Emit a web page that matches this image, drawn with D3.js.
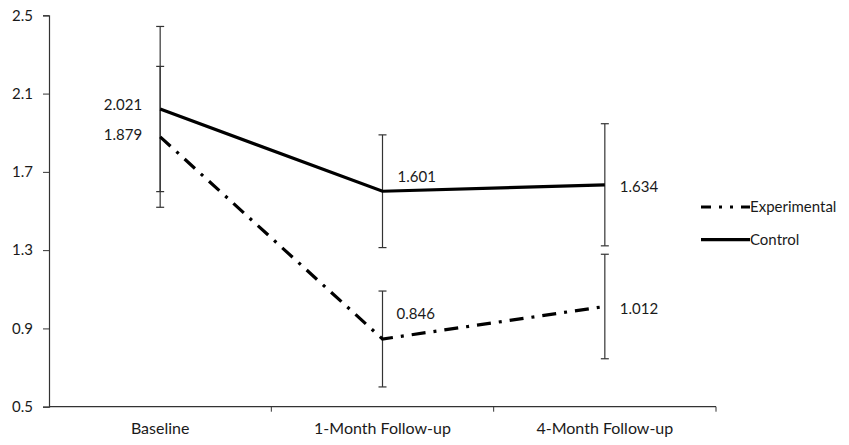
<!DOCTYPE html>
<html>
<head>
<meta charset="utf-8">
<script src="https://cdn.jsdelivr.net/npm/d3@7"></script>
<style>
  body { margin: 0; background: #fff; }
  text { font-family: Lato, "Open Sans", sans-serif; font-size: 15px; fill: #1a1a1a; }
</style>
</head>
<body>
<div id="chart"></div>
<script>
// Data
const categories = ['Baseline', '1-Month Follow-up', '4-Month Follow-up'];
const experimental = [1.879, 0.846, 1.012];
const control = [2.021, 1.601, 1.634];
// half-width of the error bars
const experimentalErr = [0.360, 0.245, 0.267];
const controlErr = [0.422, 0.288, 0.312];
const yTicks = [0.5, 0.9, 1.3, 1.7, 2.1, 2.5];
const seriesNames = ['Experimental', 'Control'];

const width = 849;
const height = 445;
const margin = {top: 15.3, left: 49, right: 133, bottom: 38.3};

const svg = d3.select('#chart').append('svg')
    .attr('width', width)
    .attr('height', height);

const x = d3.scaleBand()
    .domain(categories)
    .range([margin.left, width - margin.right]);

const y = d3.scaleLinear()
    .domain([0.5, 2.5])
    .range([height - margin.bottom, margin.top]);

const axisColor = '#333';

// y axis
const yAxis = svg.append('g')
    .attr('transform', `translate(${margin.left},0)`)
    .call(d3.axisLeft(y).tickValues(yTicks).tickFormat(d3.format('.1f')).tickSize(6).tickPadding(10));
yAxis.select('.domain').attr('stroke', axisColor).attr('stroke-width', 1.2);
yAxis.selectAll('.tick line').attr('stroke', axisColor);
yAxis.selectAll('.tick text').style('font-size', '15px').attr('fill', '#1a1a1a');

// x axis: ticks sit on the band edges
const xAxisG = svg.append('g')
    .attr('transform', `translate(0,${y(0.5)})`);
xAxisG.append('line')
    .attr('x1', margin.left).attr('x2', width - margin.right)
    .attr('stroke', axisColor).attr('stroke-width', 1.2);
const edges = categories.map(c => x(c)).concat([x(categories[2]) + x.bandwidth()]);
xAxisG.selectAll('line.edge')
    .data(edges.slice(1))
    .enter()
    .append('line')
    .attr('class', 'edge')
    .attr('x1', d => d).attr('x2', d => d)
    .attr('y1', 0).attr('y2', 5)
    .attr('stroke', axisColor);
xAxisG.selectAll('text')
    .data(categories)
    .enter()
    .append('text')
    .attr('x', d => x(d) + x.bandwidth() / 2)
    .attr('y', 22)
    .attr('dy', '0.35em')
    .attr('text-anchor', 'middle')
    .style('font-size', '16px')
    .text(d => d);

const cx = d => x(d) + x.bandwidth() / 2;

// error bars
function errorBars(values, errs, cls) {
    const g = svg.append('g').attr('class', cls);
    const rows = categories.map((c, i) => ({c, v: values[i], e: errs[i]}));
    const bars = g.selectAll('g').data(rows).enter().append('g');
    bars.append('line')
        .attr('x1', d => cx(d.c)).attr('x2', d => cx(d.c))
        .attr('y1', d => y(d.v + d.e)).attr('y2', d => y(d.v - d.e));
    bars.append('line')
        .attr('x1', d => cx(d.c) - 4).attr('x2', d => cx(d.c) + 4)
        .attr('y1', d => y(d.v + d.e)).attr('y2', d => y(d.v + d.e));
    bars.append('line')
        .attr('x1', d => cx(d.c) - 4).attr('x2', d => cx(d.c) + 4)
        .attr('y1', d => y(d.v - d.e)).attr('y2', d => y(d.v - d.e));
    g.selectAll('line').attr('stroke', '#333').attr('stroke-width', 1.2);
}
errorBars(control, controlErr, 'err-control');
errorBars(experimental, experimentalErr, 'err-exp');

const line = d3.line()
    .x((d, i) => cx(categories[i]))
    .y(d => y(d));

const dashPattern = '14,8,3,8';

svg.append('path')
    .datum(experimental)
    .attr('d', line)
    .attr('fill', 'none')
    .attr('stroke', '#000')
    .attr('stroke-width', 3.2)
    .attr('stroke-dasharray', dashPattern);

svg.append('path')
    .datum(control)
    .attr('d', line)
    .attr('fill', 'none')
    .attr('stroke', '#000')
    .attr('stroke-width', 3.2);

// value labels (offsets roughly as in the original)
const labelOffsets = {
    control: [[-18, -4, 'end'], [15, -14, 'start'], [15, 2, 'start']],
    experimental: [[-18, -2, 'end'], [14, -25, 'start'], [15, 2, 'start']]
};
function valueLabels(values, offs) {
    svg.append('g').selectAll('text')
        .data(values)
        .enter()
        .append('text')
        .attr('x', (d, i) => cx(categories[i]) + offs[i][0])
        .attr('y', (d, i) => y(d) + offs[i][1])
        .attr('dy', '0.35em')
        .attr('text-anchor', (d, i) => offs[i][2])
        .text(d => d3.format('.3f')(d));
}
valueLabels(control, labelOffsets.control);
valueLabels(experimental, labelOffsets.experimental);

// legend
const legend = svg.append('g').attr('transform', 'translate(701,207)');
const legendItems = legend.selectAll('g')
    .data(seriesNames)
    .enter()
    .append('g')
    .attr('transform', (d, i) => `translate(0,${i * 32.6})`);
legendItems.append('line')
    .attr('x1', 0).attr('x2', 49)
    .attr('stroke', '#000')
    .attr('stroke-width', 3.2)
    .attr('stroke-dasharray', d => d === 'Experimental' ? '10,8,3,8,3,8' : null);
legendItems.append('text')
    .attr('x', 49)
    .attr('dy', '0.35em')
    .text(d => d);
</script>
</body>
</html>
